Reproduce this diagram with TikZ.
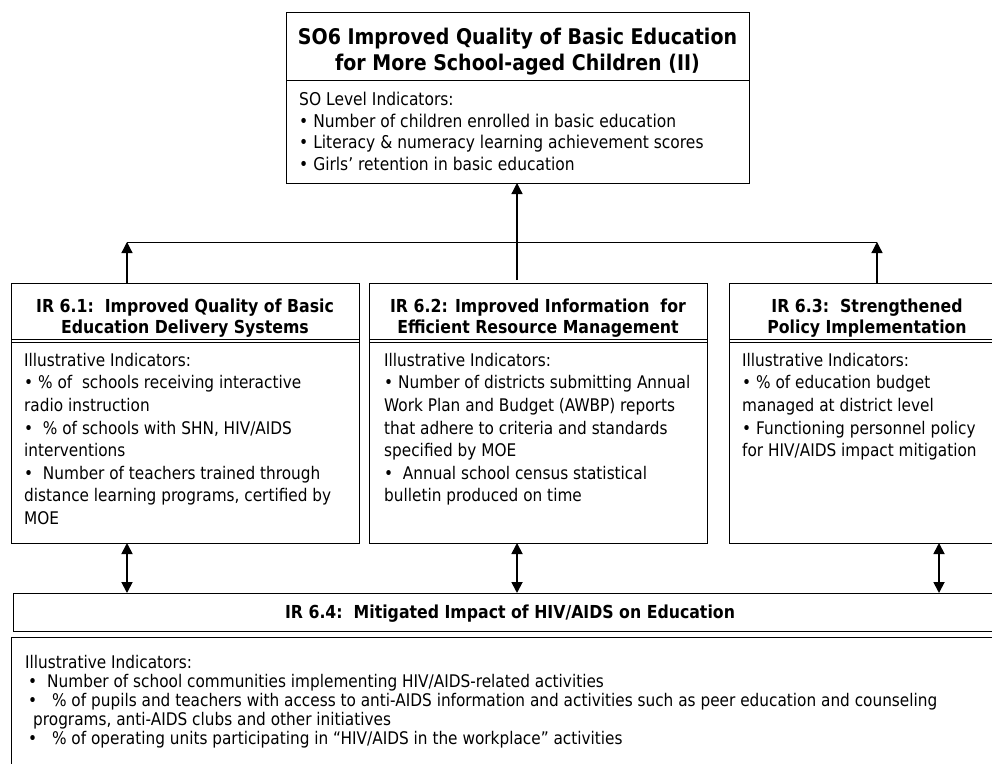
\documentclass[tikz,border=0pt]{standalone}
\usepackage{fontspec}
\setmainfont{DejaVu Sans}[FakeStretch=0.88]
\usetikzlibrary{arrows.meta}
\begin{document}
\begin{tikzpicture}[x=1pt,y=-1pt,
  box/.style={draw=black, line width=1pt, fill=white, inner sep=0pt, outer sep=0pt, anchor=north west},
  arr/.style={line width=1.3pt, -{Triangle[width=11pt,length=11pt]}},
  darr/.style={line width=1.8pt, {Triangle[width=11pt,length=11pt]}-{Triangle[width=11pt,length=11pt]}},
  conn/.style={line width=1pt},
  titletxt/.style={font=\fontsize{21.6}{26}\selectfont\bfseries, align=center, inner sep=0pt},
  headtxt/.style={font=\fontsize{17.9}{21}\selectfont\bfseries, align=center, inner sep=0pt},
  bodytxt/.style={font=\fontsize{17.4}{22.6}\selectfont, align=left, inner sep=0pt, anchor=north west},
]
\useasboundingbox (0,0) rectangle (992,763);
\clip (0,0) rectangle (992,763);
\fill[white] (0,0) rectangle (992,763);

% boxes
\node[box, minimum width=463pt, minimum height=171pt] (so) at (286,12) {};
\draw[conn] (286,80) -- (749,80);

\node[box, minimum width=348pt, minimum height=260pt] (ir1) at (11,283) {};
\node[box, minimum width=338pt, minimum height=260pt] (ir2) at (369,283) {};
\node[box, minimum width=276pt, minimum height=260pt] (ir3) at (729,283) {};
\foreach \a/\b in {11/359,369/707,729/1005}{
  \draw[conn] (\a,339) -- (\b,339);
  \draw[conn] (\a,342.5) -- (\b,342.5);
}
\node[box, minimum width=994pt, minimum height=38pt] (ir4h) at (13,593) {};
\node[box, minimum width=998pt, minimum height=160pt] (ir4b) at (11,637) {};

% texts
\node[titletxt] (sot) at (517.5,51.5) {SO6 Improved Quality of Basic Education\\for More School-aged Children (II)};
\node[bodytxt, font=\fontsize{17.6}{21.5}\selectfont] (sob) at (299,90.5) {\strut SO Level Indicators:\\
• Number of children enrolled in basic education\\
• Literacy \& numeracy learning achievement scores\\
• Girls’ retention in basic education};

\node[headtxt] (ir1t) at (185,318) {IR 6.1:\ \ Improved Quality of Basic\\Education Delivery Systems};
\node[headtxt] (ir2t) at (538,318) {IR 6.2: Improved Information\ \ for\\Efficient Resource Management};
\node[headtxt] (ir3t) at (867,318) {IR 6.3:\ \ Strengthened\\Policy Implementation};

\node[bodytxt] (ir1b) at (24,350.2) {\strut Illustrative Indicators:\\
• \% of\ \ schools receiving interactive\\
radio instruction\\
•\ \ \% of schools with SHN, HIV/AIDS\\
interventions\\
•\ \ Number of teachers trained through\\
distance learning programs, certified by\\
MOE};
\node[bodytxt] (ir2b) at (384,350.2) {\strut Illustrative Indicators:\\
• Number of districts submitting Annual\\
Work Plan and Budget (AWBP) reports\\
that adhere to criteria and standards\\
specified by MOE\\
•\ \ Annual school census statistical\\
bulletin produced on time};
\node[bodytxt] (ir3b) at (742,350.2) {\strut Illustrative Indicators:\\
• \% of education budget\\
managed at district level\\
• Functioning personnel policy\\
for HIV/AIDS impact mitigation};

\node[headtxt] (ir4t) at (510,614) {IR 6.4:\ \ Mitigated Impact of HIV/AIDS on Education};
\node[bodytxt, font=\fontsize{17.4}{19}\selectfont] (ir4bt) at (25,654.7) {\strut Illustrative Indicators:\\
\makebox[22pt][l]{\hspace{3pt}•}Number of school communities implementing HIV/AIDS-related activities\\
\makebox[22pt][l]{\hspace{3pt}•}\ \% of pupils and teachers with access to anti-AIDS information and activities such as peer education and counseling\\
\hspace*{8pt}programs, anti-AIDS clubs and other initiatives\\
\makebox[22pt][l]{\hspace{3pt}•}\ \% of operating units participating in “HIV/AIDS in the workplace” activities};

% connectors
\coordinate (j1) at (127,242);
\coordinate (j3) at (877,242);
\coordinate (j2) at (517,280);
\draw[conn] (j1) -- (j3);
\draw[arr] (j1 |- ir1.north) -- (j1);
\draw[arr] (j3 |- ir3.north) -- (j3);
\draw[arr] (j2) -- (j2 |- so.south);

\coordinate (d1) at (127,560);
\coordinate (d2) at (517,560);
\coordinate (d3) at (939,560);
\draw[darr] (d1 |- ir1.south) -- (d1 |- ir4h.north);
\draw[darr] (d2 |- ir2.south) -- (d2 |- ir4h.north);
\draw[darr] (d3 |- ir3.south) -- (d3 |- ir4h.north);
\end{tikzpicture}
\end{document}
